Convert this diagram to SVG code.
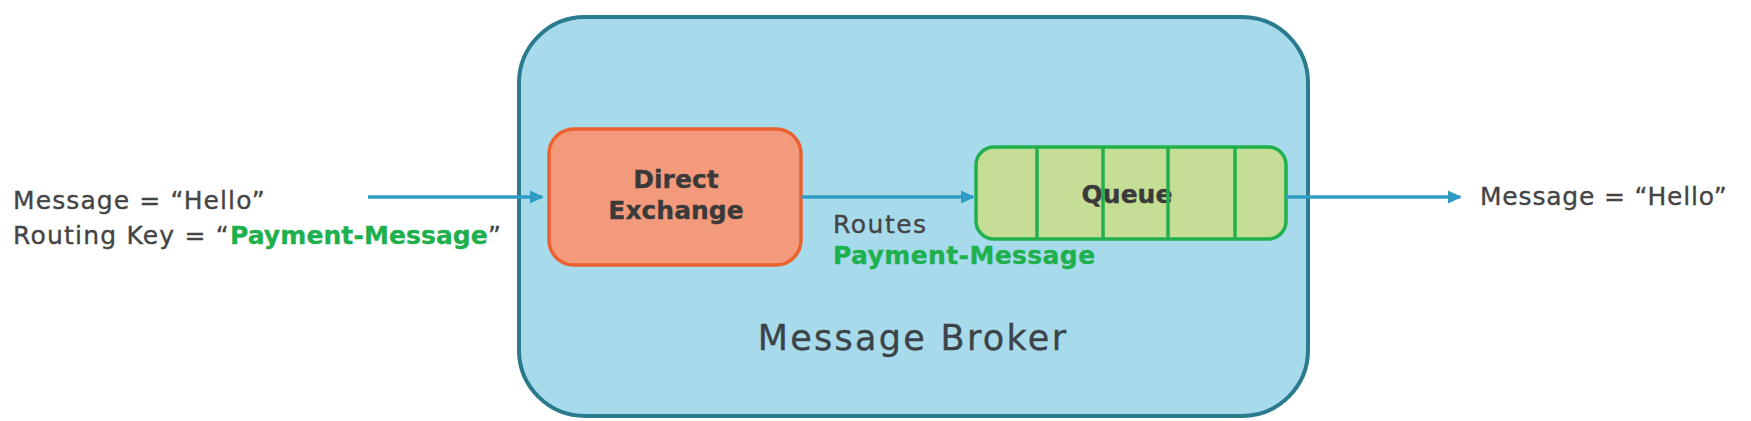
<svg xmlns="http://www.w3.org/2000/svg" width="1751" height="421" viewBox="0 0 1751 421">
<style>
.t{font-family:"DejaVu Sans","Open Sans",sans-serif;fill:#444444;stroke:#444444;stroke-width:0.35}
.g{fill:#1fb04e;stroke:#1fb04e;font-weight:bold}
.b{font-weight:bold;fill:#3a3a3a;stroke:#3a3a3a}
.c{fill:none;stroke:#2f9cc3;stroke-width:3.5}
</style>
<defs>
<marker id="ah" markerWidth="14" markerHeight="14" refX="12" refY="7" orient="auto" markerUnits="userSpaceOnUse">
<path d="M0,0.5 L14,7 L0,13.5 Z" fill="#2f9cc3"/>
</marker>
</defs>
<rect width="1751" height="421" fill="#ffffff"/>
<g id="broker">
<rect x="519" y="17" width="789" height="399" rx="66" fill="#a7dbeb" stroke="#2a7b8d" stroke-width="4"/>
<text class="t" x="913" y="350" font-size="35" letter-spacing="2.3" text-anchor="middle" style="fill:#3c4348;stroke:#3c4348">Message Broker</text>
</g>
<g id="exchange">
<rect x="549" y="129" width="252" height="136" rx="25" fill="#f49a7c" stroke="#ea6230" stroke-width="3.5"/>
<text class="t b" x="676" y="188" font-size="25" text-anchor="middle">Direct</text>
<text class="t b" x="676" y="219" font-size="25" text-anchor="middle">Exchange</text>
</g>
<g id="queue">
<rect x="976" y="147" width="310" height="92" rx="18" fill="#c6dd95" stroke="#20b04d" stroke-width="3.5"/>
<text class="t b" x="1127" y="203" font-size="25" text-anchor="middle">Queue</text>
<path d="M1037,148V238M1103,148V238M1168,148V238M1235,148V238" stroke="#20b04d" stroke-width="3.5"/>
</g>
<g id="producer">
<text class="t" x="13" y="209" font-size="25" letter-spacing="1.1">Message = “Hello”</text>
<text class="t" x="13" y="244" font-size="25" letter-spacing="1.2">Routing Key = “<tspan class="g" letter-spacing="0.1">Payment-Message</tspan>”</text>
</g>
<g id="consumer">
<text class="t" x="1480" y="205" font-size="25" letter-spacing="0.8">Message = “Hello”</text>
</g>
<g id="connectors">
<line class="c" x1="368" y1="197" x2="542" y2="197" marker-end="url(#ah)"/>
<line class="c" x1="801" y1="197" x2="973" y2="197" marker-end="url(#ah)"/>
<line class="c" x1="1286" y1="197" x2="1460" y2="197" marker-end="url(#ah)"/>
<text class="t" x="833" y="233" font-size="25" letter-spacing="1.5">Routes</text>
<text class="t g" x="833" y="264" font-size="25" letter-spacing="0.4">Payment-Message</text>
</g>
</svg>
